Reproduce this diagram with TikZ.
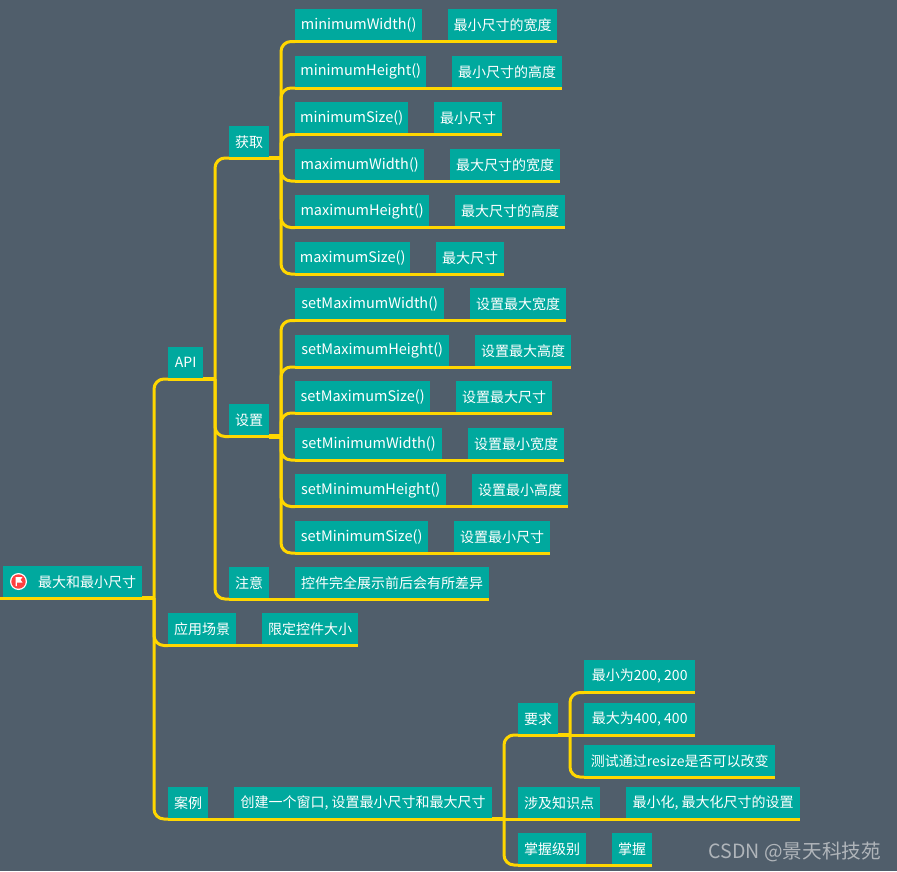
\documentclass[tikz,border=0pt]{standalone}
\usepackage{fontspec}
\usepackage{xcolor}
\setmainfont{Noto Sans CJK SC}
\newfontfamily\markfont{Noto Sans CJK SC}
\definecolor{pagebg}{RGB}{80,94,107}
\definecolor{boxteal}{RGB}{0,169,158}
\definecolor{linkgold}{RGB}{255,215,0}
\definecolor{markgrey}{RGB}{176,181,186}
\tikzset{
  box/.style={fill=boxteal, text=white, anchor=south west, inner xsep=0pt, inner ysep=0pt,
    minimum height=32, minimum width=#1},
  link/.style={draw=linkgold, line width=3pt, rounded corners=10},
  hublink/.style={draw=linkgold, line width=4.2pt}
}

\begin{document}
\begin{tikzpicture}[x=1pt, y=-1pt, font=\fontsize{14}{16}\selectfont]
\fill[pagebg] (0,0) rectangle (897,871);
\useasboundingbox (0,0) rectangle (897,871);

\coordinate (hubroot) at (154,598);
\coordinate (hubapi) at (215,379);
\coordinate (hubget) at (281,158);
\coordinate (hubset) at (281,436.5);
\coordinate (hubcase) at (504,819);
\coordinate (hubreq) at (570,735);

% main branches
\node[box=139] (root) at (3,598) {\hspace*{29pt}最大和最小尺寸};
\node[box=35] (api) at (168,379) {API};
\node[box=40] (get) at (229,158) {获取};
\node[box=40] (set) at (229,436.5) {设置};
\node[box=40] (note) at (229,599) {注意};
\node[box=194] (notetxt) at (295,599) {控件完全展示前后会有所差异};
\node[box=68] (scene) at (168,645.5) {应用场景};
\node[box=96] (scenetxt) at (262,645.5) {限定控件大小};
\node[box=40] (case) at (168,819) {案例};
\node[box=258] (casetxt) at (234,819) {创建一个窗口, 设置最小尺寸和最大尺寸};
\node[box=40] (req) at (518,735) {要求};
\node[box=111] (reqa) at (584,692.5) {最小为200, 200};
\node[box=111] (reqb) at (584,735) {最大为400, 400};
\node[box=191] (reqc) at (584,777) {测试通过resize是否可以改变};
\node[box=82] (know) at (518,819) {涉及知识点};
\node[box=174] (knowtxt) at (626,819) {最小化, 最大化尺寸的设置};
\node[box=68] (level) at (518,865) {掌握级别};
\node[box=40] (leveltxt) at (612,865) {掌握};

% method rows
\foreach \hub/\n/\y/\w/\t/\vx/\vw/\v in {
  hubget/mina/41.5/127/minimumWidth()/448/109/最小尺寸的宽度,
  hubget/minb/88/131/minimumHeight()/452/110/最小尺寸的高度,
  hubget/minc/134.5/113/minimumSize()/434/68/最小尺寸,
  hubget/maxa/181/129/maximumWidth()/450/110/最大尺寸的宽度,
  hubget/maxb/227.5/134/maximumHeight()/455/110/最大尺寸的高度,
  hubget/maxc/274/115/maximumSize()/436/68/最大尺寸,
  hubset/setma/320.5/149/setMaximumWidth()/470/96/设置最大宽度,
  hubset/setmb/367/154/setMaximumHeight()/475/96/设置最大高度,
  hubset/setmc/413/135/setMaximumSize()/456/96/设置最大尺寸,
  hubset/setna/460/147/setMinimumWidth()/468/96/设置最小宽度,
  hubset/setnb/506.5/151/setMinimumHeight()/472/96/设置最小高度,
  hubset/setnc/553/133/setMinimumSize()/454/96/设置最小尺寸}{
  \node[box=\w, font=\fontsize{14.5}{16}\selectfont] (\n) at (295,\y) {\t};
  \node[box=\vw] (\n txt) at (\vx,\y) {\v};
  \draw[link] (\n.south west) -- (\n txt.south east);
  \draw[link] (\hub) |- (\n.south west);
}

\draw[link] (0,598) -- (hubroot);
\draw[hublink] (root.south east) -- (hubroot);
\draw[hublink] (api.south east) -- (hubapi);
\draw[hublink] (get.south east) -- (hubget);
\draw[hublink] (set.south east) -- (hubset);
\draw[hublink] (casetxt.south east) -- (hubcase);
\draw[hublink] (req.south east) -- (hubreq);

\foreach \a in {api,scene,case} \draw[link] (hubroot) |- (\a.south west);
\foreach \a in {get,set,note} \draw[link] (hubapi) |- (\a.south west);
\foreach \a in {req,level} \draw[link] (hubcase) |- (\a.south west);
\foreach \a in {reqa,reqc} \draw[link] (hubreq) |- (\a.south west);
\draw[link] (hubcase) -- (know.south west);
\draw[link] (hubreq) -- (reqb.south west);

\foreach \a/\b in {api/api,get/get,set/set,note/notetxt,scene/scenetxt,case/casetxt,
  req/req,reqa/reqa,reqb/reqb,reqc/reqc,know/knowtxt,level/leveltxt}
  \draw[link] (\a.south west) -- (\b.south east);

% flag icon
\coordinate (flag) at (18.5,581.5);
\fill[white] (flag) circle (8.5);
\fill[red!75!white] (flag) circle (7.2);
\fill[white] (15.5,577) -- (22.5,577) -- (20.5,579.8) -- (22.5,582.5) -- (16.8,582.5) -- (16.8,586) -- (15.5,586) -- cycle;

\node[text=markgrey, anchor=east, inner sep=0pt, font=\markfont\fontsize{19.6}{22}\selectfont] (mark) at (881,851.5) {CSDN @景天科技苑};
\end{tikzpicture}
\end{document}
